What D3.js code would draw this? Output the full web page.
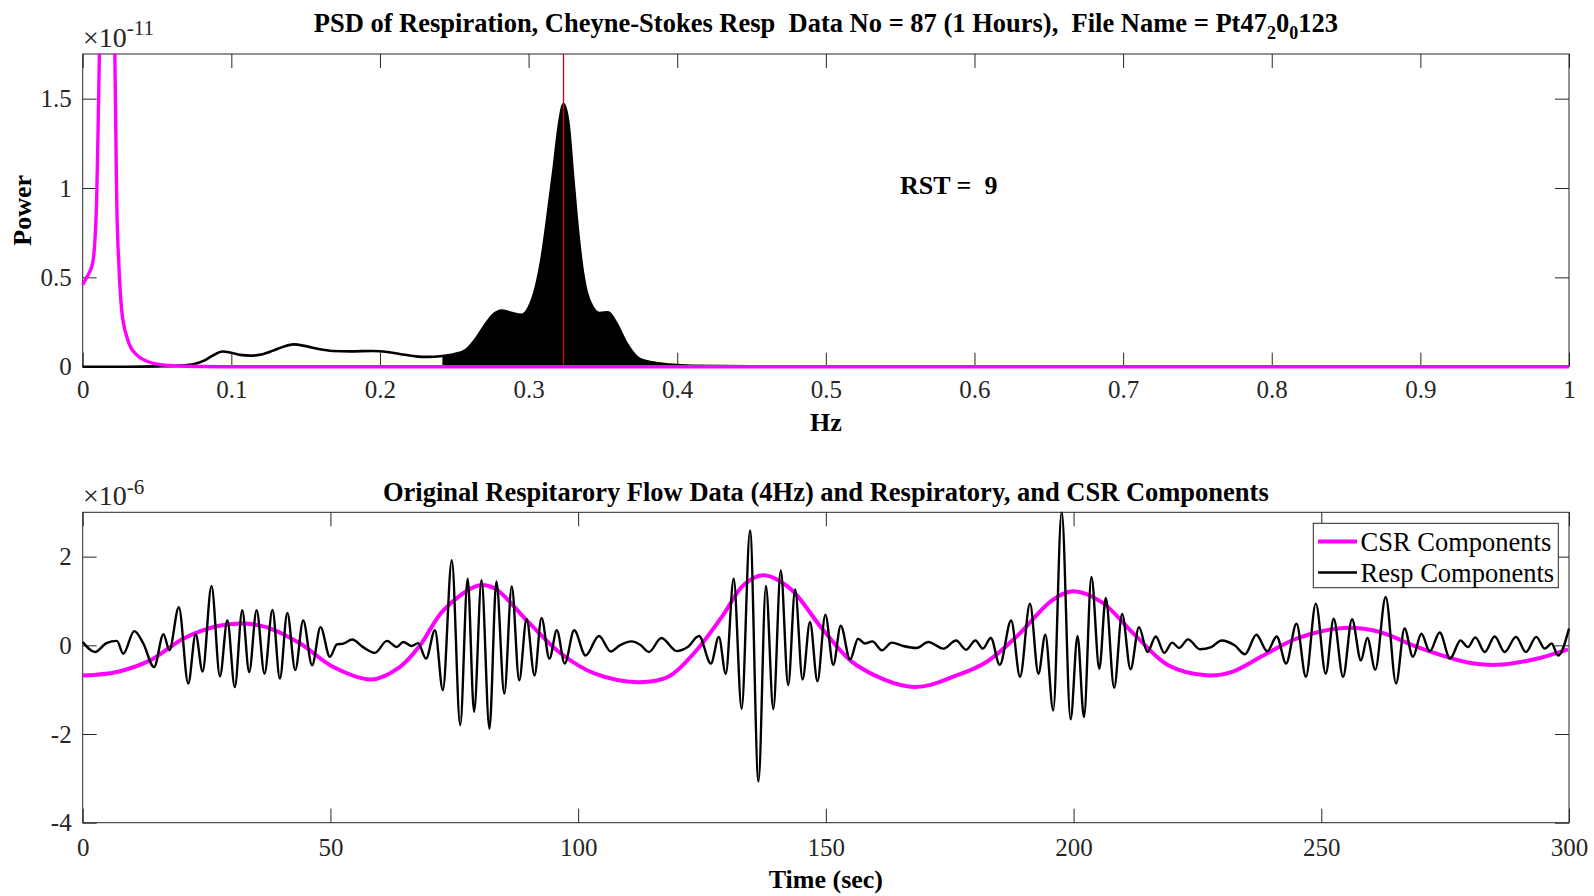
<!DOCTYPE html>
<html>
<head>
<meta charset="utf-8">
<script src="https://cdn.jsdelivr.net/npm/d3@7"></script>
<style>
  html, body { margin: 0; padding: 0; background: #fff; }
  svg { display: block; font-family: "Liberation Serif", "Times New Roman", serif; }
  .tick text { font-size: 25px; fill: #262626; }
  .tick line { stroke: #262626; stroke-width: 1; }
  .bold { font-weight: bold; fill: #000; }
</style>
</head>
<body>
<div id="figure"></div>
<script>
// ---- values ----

// PSD of the respiratory component, [Hz, power x1e-11]
const psdResp = [
    [0, 0], [0.03, 0], [0.05, 0.002], [0.065, 0.006], [0.075, 0.015], [0.082, 0.035],
    [0.088, 0.065], [0.094, 0.085], [0.1, 0.078], [0.106, 0.066], [0.113, 0.062],
    [0.12, 0.068], [0.128, 0.09], [0.135, 0.112], [0.142, 0.125], [0.15, 0.115],
    [0.158, 0.1], [0.168, 0.088], [0.18, 0.086], [0.195, 0.088], [0.205, 0.082],
    [0.214, 0.07], [0.224, 0.058], [0.232, 0.055], [0.242, 0.06], [0.25, 0.07],
    [0.258, 0.095], [0.264, 0.15], [0.27, 0.225], [0.276, 0.29], [0.282, 0.314],
    [0.288, 0.302], [0.295, 0.29], [0.3, 0.33], [0.305, 0.45], [0.309, 0.62],
    [0.313, 0.86], [0.317, 1.12], [0.3205, 1.36], [0.3235, 1.47], [0.327, 1.35],
    [0.33, 1.06], [0.333, 0.78], [0.336, 0.56], [0.339, 0.42], [0.343, 0.335],
    [0.348, 0.3], [0.3535, 0.305], [0.359, 0.245], [0.366, 0.13], [0.375, 0.042],
    [0.385, 0.022], [0.395, 0.012], [0.41, 0.005], [0.45, 0.002], [0.5, 0], [1, 0]
];

// PSD of the CSR component, [Hz, power x1e-11] (peak runs off the top)
const psdCsr = [
    [0, 0.46], [0.0027, 0.5], [0.0067, 0.58], [0.0094, 0.93], [0.0107, 1.5],
    [0.012, 2.1], [0.014, 3.2], [0.0165, 3.8], [0.019, 3.2], [0.0208, 2.3],
    [0.022, 1.5], [0.0229, 0.93], [0.0244, 0.56], [0.0262, 0.32], [0.0296, 0.17],
    [0.0363, 0.066], [0.0475, 0.019], [0.061, 0.005], [0.08, 0.001], [0.1, 0], [1, 0]
];

const shadedBand = [0.242, 0.41];   // Hz range filled under the respiratory peak
const peakFreq = 0.3235;            // red marker
const rstValue = 9;

// Resp components, [sec, flow x1e-6] (turning points of the trace)
const respFlow = [
    [0, 0.075], [2.5, -0.15], [4.8, 0.05], [6.9, 0.1], [8.2, -0.19], [10.4, 0.32],
    [12.2, 0.05], [14.4, -0.49], [16.3, 0.25], [17.5, -0.11], [19.4, 0.86], [21.3, -0.86],
    [22.8, 0.25], [24.2, -0.59], [26.0, 1.34], [27.7, -0.7], [29.2, 0.56], [30.7, -0.94],
    [32.2, 0.79], [33.6, -0.6], [35.1, 0.79], [36.7, -0.64], [38.3, 0.8], [39.8, -0.75],
    [41.3, 0.73], [42.9, -0.56], [44.5, 0.56], [46.3, -0.45], [48.0, 0.41], [49.9, -0.26],
    [51.3, 0.02], [52.6, 0.04], [54.4, 0.13], [56.6, -0.04], [59.0, -0.17], [61.4, 0.1],
    [63.4, -0.04], [64.7, 0.075], [66.4, -0.015], [67.7, 0.05], [69.3, -0.3], [71.1, 0.34],
    [72.7, -1.01], [74.5, 1.92], [76.2, -1.8], [77.7, 1.5], [79.0, -1.5], [80.5, 1.47],
    [82.1, -1.88], [83.5, 1.44], [85.1, -1.09], [86.6, 1.33], [88.1, -0.79], [89.6, 0.59],
    [91.2, -0.68], [92.6, 0.62], [94.2, -0.3], [95.7, 0.34], [97.3, -0.41], [99.2, 0.34],
    [101.5, -0.23], [104.2, 0.21], [106.6, -0.14], [108.4, 0.0], [110.8, 0.09], [112.5, 0.015],
    [114.3, -0.15], [116.8, 0.165], [119.9, -0.13], [122.1, -0.04], [124.4, 0.21], [126.8, -0.41],
    [128.4, 0.19], [129.8, -0.64], [131.4, 1.5], [133.0, -1.43], [134.7, 2.59], [136.4, -3.07],
    [137.9, 1.34], [139.4, -1.44], [140.9, 1.69], [142.4, -0.9], [143.8, 1.26], [145.3, -0.77],
    [146.8, 0.53], [148.3, -0.81], [149.9, 0.69], [151.5, -0.44], [153.0, 0.44], [154.9, -0.32],
    [156.5, 0.15], [157.9, 0.04], [159.4, 0.09], [161.3, -0.11], [163.3, 0.06], [165.6, -0.015],
    [168.3, -0.06], [170.7, 0.075], [173.7, -0.075], [176.3, 0.11], [178.3, -0.1], [180.2, 0.11],
    [181.7, -0.075], [183.3, 0.165], [185.1, -0.44], [187.4, 0.56], [189.2, -0.71], [191.2, 0.94],
    [192.9, -0.64], [194.3, 0.24], [195.9, -1.47], [197.6, 3.02], [199.4, -1.67], [200.8, 0.21],
    [202.1, -1.62], [203.6, 1.54], [205.2, -0.53], [206.5, 1.07], [208.2, -0.96], [209.8, 0.71],
    [211.5, -0.54], [213.2, 0.41], [214.9, -0.15], [216.6, 0.2], [218.3, -0.17], [219.9, 0.06],
    [221.3, -0.06], [223.1, 0.135], [225.5, -0.09], [227.8, -0.04], [229.9, 0.11], [232.5, 0.0],
    [234.6, -0.2], [236.9, 0.24], [239.1, -0.135], [241.0, 0.2], [242.9, -0.41], [245.0, 0.49],
    [246.9, -0.71], [248.9, 0.94], [250.9, -0.64], [252.5, 0.6], [254.4, -0.71], [256.2, 0.59],
    [258.0, -0.34], [259.3, 0.165], [260.9, -0.55], [263.0, 1.09], [265.1, -0.86], [266.8, 0.38],
    [268.5, -0.26], [270.2, 0.26], [271.9, -0.135], [273.9, 0.29], [276.0, -0.3], [278.1, 0.11],
    [279.6, -0.04], [281.1, 0.18], [283.0, -0.15], [285.0, 0.2], [287.0, -0.15], [289.3, 0.19],
    [291.3, -0.15], [293.4, 0.19], [295.1, -0.075], [296.5, 0.04], [297.8, -0.23], [300, 0.38]
];

// CSR components, [sec, flow x1e-6]
const csrFlow = [
    [0, -0.68], [6.9, -0.6], [13.6, -0.34], [20.3, 0.15], [27, 0.43], [32.4, 0.49],
    [37.1, 0.41], [43.9, 0.04], [50.6, -0.49], [58.3, -0.77], [64, -0.49], [68.1, 0],
    [72.8, 0.79], [79.9, 1.35], [83.2, 1.28], [89.9, 0.53], [96.6, -0.19], [103.4, -0.64],
    [112.1, -0.83], [118.2, -0.71], [123.6, -0.15], [129.0, 0.64], [133.5, 1.37], [137.4, 1.58],
    [142.8, 1.28], [149.5, 0.34], [156.2, -0.45], [167.7, -0.94], [176.4, -0.68], [182.5, -0.37],
    [188.8, 0.23], [195.6, 1.01], [199.9, 1.22], [205.6, 0.98], [212.4, 0.23], [219.1, -0.45],
    [227.2, -0.68], [232, -0.6], [238.3, -0.23], [245.0, 0.15], [254.4, 0.39], [261.8, 0.3],
    [268.5, 0.0], [275.3, -0.26], [279.3, -0.38], [285.4, -0.44], [292.8, -0.32], [299.8, -0.09]
];

// axis ticks
const psdFreqTicks = [0, 0.1, 0.2, 0.3, 0.4, 0.5, 0.6, 0.7, 0.8, 0.9, 1];
const psdPowerTicks = [0, 0.5, 1, 1.5];
const timeTicks = [0, 50, 100, 150, 200, 250, 300];
const flowTicks = [-4, -2, 0, 2];

const legendLabels = ['CSR Components', 'Resp Components'];

class RespirationFigure {
    constructor() {
        this.width = 1594;
        this.height = 896;
        this.magenta = '#ff00ff';
        this.axisColor = '#262626';

        // axes boxes in page pixels
        this.top = { left: 82.7, right: 1569, top: 54, bottom: 366.7 };
        this.bottom = { left: 82.7, right: 1569, top: 512.3, bottom: 822.7 };

        this.svg = d3.select('#figure')
            .append('svg')
            .attr('width', this.width)
            .attr('height', this.height);

        this.svg.append('rect')
            .attr('width', this.width)
            .attr('height', this.height)
            .attr('fill', '#fff');

        this.drawPsdPanel();
        this.drawFlowPanel();
    }

    clipFor(box, id) {
        this.svg.append('clipPath').attr('id', id)
            .append('rect')
            .attr('x', box.left - 2)
            .attr('y', box.top - 0.5)
            .attr('width', box.right - box.left + 4)
            .attr('height', box.bottom - box.top + 4.5);
        return `url(#${id})`;
    }

    // axes go underneath the data, like MATLAB's default layer
    drawAxes(box, x, y, xTicks, yTicks, xPad) {
        const g = this.svg.append('g').attr('color', this.axisColor);

        const place = (axis, tx, ty, keepLabels) => {
            const a = g.append('g')
                .attr('transform', `translate(${tx},${ty})`)
                .call(axis)
                .attr('font-size', null)
                .attr('font-family', null);
            a.select('.domain').remove();
            if (!keepLabels) a.selectAll('text').remove();
        };

        const fmt = d => String(d).replace('\u2212', '-');

        place(d3.axisBottom(x).tickValues(xTicks).tickFormat(fmt)
            .tickSizeInner(-14).tickSizeOuter(0).tickPadding(xPad), 0, box.bottom, true);
        place(d3.axisTop(x).tickValues(xTicks).tickSizeInner(-14).tickSizeOuter(0), 0, box.top, false);
        place(d3.axisLeft(y).tickValues(yTicks).tickFormat(fmt)
            .tickSizeInner(-14).tickSizeOuter(0).tickPadding(11), box.left, 0, true);
        place(d3.axisRight(y).tickValues(yTicks).tickSizeInner(-14).tickSizeOuter(0), box.right, 0, false);

        g.append('rect')
            .attr('x', box.left)
            .attr('y', box.top)
            .attr('width', box.right - box.left)
            .attr('height', box.bottom - box.top)
            .attr('fill', 'none')
            .attr('stroke', this.axisColor)
            .attr('stroke-width', 1);
    }

    exponentLabel(xPos, yPos, power) {
        const t = this.svg.append('text')
            .attr('x', xPos)
            .attr('y', yPos)
            .attr('font-size', 28)
            .attr('fill', this.axisColor);
        t.append('tspan').text('\u00d710');
        t.append('tspan').attr('dy', -11.5).attr('font-size', 21).text(power);
    }

    drawPsdPanel() {
        const box = this.top;
        const x = d3.scaleLinear().domain([0, 1]).range([box.left, box.right]);
        const y = d3.scaleLinear().domain([0, 1.75]).range([box.bottom, box.top]);
        const clip = this.clipFor(box, 'clip-psd');

        this.drawAxes(box, x, y, psdFreqTicks, psdPowerTicks, 14);

        const line = d3.line().x(d => x(d[0])).y(d => y(d[1])).curve(d3.curveMonotoneX);
        const area = d3.area().x(d => x(d[0])).y0(y(0)).y1(d => y(d[1])).curve(d3.curveMonotoneX);

        const plot = this.svg.append('g').attr('clip-path', clip);

        // respiratory PSD curve
        plot.append('path')
            .datum(psdResp)
            .attr('d', line)
            .attr('fill', 'none')
            .attr('stroke', '#000')
            .attr('stroke-width', 2.6);

        // shaded respiratory band
        plot.append('path')
            .datum(psdResp.filter(d => d[0] >= shadedBand[0] && d[0] <= shadedBand[1]))
            .attr('d', area)
            .attr('fill', '#000');

        // peak frequency marker
        plot.append('line')
            .attr('x1', x(peakFreq)).attr('x2', x(peakFreq))
            .attr('y1', box.top).attr('y2', box.bottom)
            .attr('stroke', '#e00000')
            .attr('stroke-width', 1.3);

        // CSR PSD curve, on top
        plot.append('path')
            .datum(psdCsr)
            .attr('d', line)
            .attr('fill', 'none')
            .attr('stroke', this.magenta)
            .attr('stroke-width', 3.4);

        this.exponentLabel(83, 46.5, '-11');

        this.svg.append('text')
            .attr('class', 'bold')
            .attr('x', 900)
            .attr('y', 194)
            .attr('font-size', 26)
            .style('white-space', 'pre')
            .text(`RST =  ${rstValue}`);

        // title with TeX-style subscripts from the file name
        const title = this.svg.append('text')
            .attr('class', 'bold')
            .attr('x', (box.left + box.right) / 2)
            .attr('y', 31.5)
            .attr('text-anchor', 'middle')
            .attr('font-size', 26.5)
            .style('white-space', 'pre');
        title.append('tspan').text('PSD of Respiration, Cheyne-Stokes Resp  Data No = 87 (1 Hours),  File Name = Pt47');
        title.append('tspan').attr('dy', 7).attr('font-size', 18).text('2');
        title.append('tspan').attr('dy', -7).text('0');
        title.append('tspan').attr('dy', 7).attr('font-size', 18).text('0');
        title.append('tspan').attr('dy', -7).text('123');

        this.svg.append('text')
            .attr('class', 'bold')
            .attr('x', (box.left + box.right) / 2)
            .attr('y', 431)
            .attr('text-anchor', 'middle')
            .attr('font-size', 26)
            .text('Hz');

        this.svg.append('text')
            .attr('class', 'bold')
            .attr('transform', `translate(31,${(box.top + box.bottom) / 2}) rotate(-90)`)
            .attr('text-anchor', 'middle')
            .attr('font-size', 26)
            .text('Power');
    }

    drawFlowPanel() {
        const box = this.bottom;
        const x = d3.scaleLinear().domain([0, 300]).range([box.left, box.right]);
        const y = d3.scaleLinear().domain([-4, 3]).range([box.bottom, box.top]);
        const clip = this.clipFor(box, 'clip-flow');

        this.drawAxes(box, x, y, timeTicks, flowTicks, 16);

        const plot = this.svg.append('g').attr('clip-path', clip);

        plot.append('path')
            .datum(csrFlow)
            .attr('d', d3.line().x(d => x(d[0])).y(d => y(d[1])).curve(d3.curveCatmullRom.alpha(0.5)))
            .attr('fill', 'none')
            .attr('stroke', this.magenta)
            .attr('stroke-width', 4);

        plot.append('path')
            .datum(respFlow)
            .attr('d', d3.line().x(d => x(d[0])).y(d => y(d[1])).curve(d3.curveMonotoneX))
            .attr('fill', 'none')
            .attr('stroke', '#000')
            .attr('stroke-width', 2.4);

        this.exponentLabel(83, 505, '-6');

        this.svg.append('text')
            .attr('class', 'bold')
            .attr('x', (box.left + box.right) / 2)
            .attr('y', 500.5)
            .attr('text-anchor', 'middle')
            .attr('font-size', 26.5)
            .text('Original Respitarory Flow Data (4Hz) and Respiratory, and CSR Components');

        this.svg.append('text')
            .attr('class', 'bold')
            .attr('x', (box.left + box.right) / 2)
            .attr('y', 888)
            .attr('text-anchor', 'middle')
            .attr('font-size', 26)
            .text('Time (sec)');

        this.drawLegend();
    }

    drawLegend() {
        const lg = this.svg.append('g');
        lg.append('rect')
            .attr('x', 1313.3).attr('y', 523.3)
            .attr('width', 245).attr('height', 64.4)
            .attr('fill', '#fff')
            .attr('stroke', this.axisColor)
            .attr('stroke-width', 1);

        const styles = [
            { color: this.magenta, width: 4 },
            { color: '#000', width: 2.4 }
        ];
        legendLabels.forEach((label, i) => {
            const cy = 541.5 + i * 31;
            lg.append('line')
                .attr('x1', 1318).attr('x2', 1357)
                .attr('y1', cy).attr('y2', cy)
                .attr('stroke', styles[i].color)
                .attr('stroke-width', styles[i].width);
            lg.append('text')
                .attr('x', 1360.5)
                .attr('y', cy + 9)
                .attr('font-size', 26.5)
                .attr('fill', '#000')
                .text(label);
        });
    }
}

new RespirationFigure();
</script>
</body>
</html>
